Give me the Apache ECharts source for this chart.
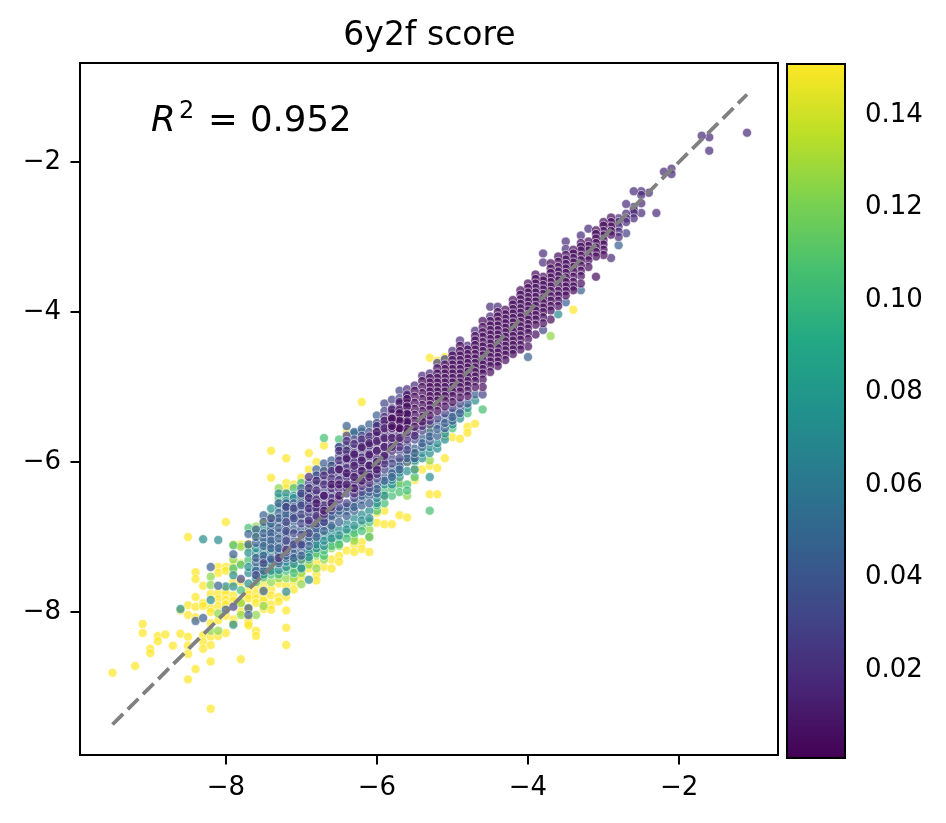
<!DOCTYPE html>
<html><head><meta charset="utf-8">
<style>html,body{margin:0;padding:0;background:#fff}#c{width:946px;height:823px}</style>
<script src="https://cdn.jsdelivr.net/npm/echarts@6/dist/echarts.min.js"></script>
</head><body><div id="c"></div>
<script>
const chartTitle = "6y2f score";
const r2Value = "0.952";
const xTicks = [-8,-6,-4,-2];
const yTicks = [-2,-4,-6,-8];
const colorTicks = [0.02,0.04,0.06,0.08,0.10,0.12,0.14];
const diagonal = [[-9.5,-9.5],[-1.1,-1.1]];
const viridis = ['#440154','#482475','#414487','#355f8d','#2a788e','#21918c','#22a884','#44bf70','#7ad151','#bddf26','#fde725'];

// Each row: x, then the y values read at that x. Layers are drawn in order.
const yellowRows = [
[-9.5,-8.81],[-9.2,-8.72],[-9.1,-8.16,-8.28],[-9.0,-8.49,-8.55],[-8.9,-8.32,-8.39],[-8.8,-8.30],[-8.7,-8.45],
[-8.6,-8.29,-7.98],[-8.5,-7.0,-7.91,-8.04,-8.33,-8.45,-8.56,-8.90],[-8.4,-7.47,-7.56,-7.80,-7.93,-8.07,-8.76],
[-8.3,-7.65,-7.88,-7.92,-8.31,-8.40,-8.49],[-8.2,-7.76,-7.95,-8.0,-8.15,-8.33,-8.44,-8.66,-9.29],
[-8.1,-7.40,-7.48,-7.75,-7.83,-7.92,-8.11,-8.32],[-8.0,-6.8,-7.40,-7.45,-7.70,-7.76,-7.84,-7.9,-8.05,-8.28],
[-7.9,-7.10,-7.37,-7.45,-7.6,-7.78,-7.85,-8.10,-8.15],[-7.8,-7.10,-7.35,-7.6,-7.85,-7.90,-8.0,-8.63],
[-7.7,-7.09,-7.7,-7.77,-7.82,-7.95,-8.10,-8.15,-8.18],[-7.6,-6.99,-7.65,-7.75,-7.82,-7.88,-8.25,-8.32],
[-7.5,-6.8,-7.62,-7.7,-7.8,-7.85,-7.96],[-7.4,-6.21,-5.85,-7.7,-7.78,-7.9,-7.97],[-7.3,-7.62,-7.8,-7.86],
[-7.2,-5.95,-6.28,-6.35,-7.65,-7.8,-7.98,-8.21,-8.44],[-7.1,-6.3,-7.4,-7.6,-7.7],[-7.0,-6.21,-6.45,-7.3,-7.5,-7.55],
[-6.9,-5.88,-6.1,-7.35,-7.42],[-6.8,-6.0,-7.35,-7.5,-7.58],[-6.7,-5.78,-7.4],[-6.6,-7.3,-7.42],[-6.5,-7.25,-7.33],
[-6.4,-5.6,-7.18],[-6.3,-7.1,-7.2],[-6.2,-5.2,-7.07,-7.16],[-6.1,-7.0,-7.2],[-6.0,-6.68,-6.81],
[-5.9,-6.65,-6.83],[-5.8,-6.83],[-5.7,-6.27,-6.71],[-5.6,-6.0,-6.74],[-5.5,-6.24,-6.1],[-5.4,-6.1],
[-5.3,-6.43,-6.05,-4.61],[-5.2,-6.43,-6.08,-4.65],[-5.1,-5.95,-4.6],[-5.0,-5.67],[-4.9,-5.69],
[-4.8,-5.53,-5.61],[-4.7,-5.49],[-3.4,-3.97]
];
const limeRows = [
[-8.2,-7.53,-7.64,-8.25],[-8.1,-8.02,-8.25],[-7.9,-7.3],[-7.8,-7.13,-7.88,-8.04],[-7.7,-7.13],[-7.6,-6.86,-8.04],
[-7.5,-7.55,-7.92],[-7.4,-7.6,-7.4],[-7.3,-7.55,-6.35],[-7.2,-7.55],[-7.1,-7.55,-7.33],[-7.0,-7.63,-7.48],
[-6.9,-7.37],[-6.8,-7.42,-7.25],[-6.7,-7.3],[-6.6,-7.15],[-6.5,-7.12],[-6.3,-7.0,-7.05],[-6.1,-6.9],[-6.0,-5.55],
[-5.9,-6.45],[-5.6,-6.45],[-5.5,-5.9],[-5.3,-5.98,-5.55],[-5.1,-5.65],[-3.7,-4.32]
];
const greenRows = [
[-7.9,-7.11,-7.42],[-7.8,-7.37,-7.71],[-7.7,-6.88,-7.31],[-7.6,-6.95,-7.6],[-7.5,-7.53,-7.42],[-7.4,-7.42,-6.72,-7.5],[-7.3,-7.5,-6.48],
[-7.2,-6.48,-7.45],[-7.1,-6.35,-7.42,-7.48],[-7.0,-7.4,-6.28],[-6.9,-7.3,-6.35,-7.2],[-6.8,-7.15,-6.25,-7.22],[-6.7,-5.68,-7.25,-6.1,-7.18],[-6.6,-7.05,-6.05,-7.12],
[-6.5,-7.03,-5.7,-7.1],[-6.4,-6.95,-5.82,-7.02],[-6.3,-6.9,-6.95],[-6.2,-6.85,-6.92],[-6.1,-6.8,-7.0],[-6.0,-6.65,-6.58],[-5.9,-6.55,-6.38],[-5.8,-6.45,-6.35],
[-5.7,-6.3,-6.4],[-5.6,-6.3,-6.38],[-5.5,-6.2,-6.0],[-5.3,-6.65],[-5.0,-5.55],[-4.8,-5.35],[-4.6,-5.3]
];
const tealRows = [
[-8.6,-7.96],[-8.3,-7.03],[-8.2,-7.84],[-8.1,-7.04],[-8.0,-7.66],[-7.9,-7.51,-7.66,-8.17],[-7.7,-7.21,-7.48,-7.62,-7.4],
[-7.6,-7.22,-7.15,-7.42,-7.55],[-7.5,-6.88,-7.2,-7.08,-7.38,-7.5],[-7.4,-6.62,-7.35,-7.2,-6.85,-7.45],[-7.3,-6.42,-7.44,-7.32,-6.6,-7.25],[-7.2,-6.42,-7.73,-7.4,-6.52,-7.33],[-7.1,-7.3,-6.45,-6.48,-7.36],
[-7.0,-7.42,-7.3,-6.4],[-6.9,-7.57,-7.2,-6.42,-7.27],[-6.8,-7.05,-7.15,-6.18,-7.1],[-6.7,-6.98,-7.12,-7.05],[-6.6,-6.95,-7.02,-6.88],[-6.5,-6.9,-6.98,-5.8],[-6.4,-6.82,-6.9],
[-6.3,-6.75,-6.85,-5.62],[-6.2,-6.7,-6.78,-5.6],[-6.1,-6.65,-6.75],[-6.0,-6.55,-6.48,-5.5],[-5.9,-6.45,-6.3],[-5.8,-6.3,-6.24],[-5.7,-6.2,-6.14],[-5.6,-6.12],[-5.5,-6.1,-5.98],
[-5.4,-5.95,-5.88],[-5.3,-6.2,-5.88,-5.8],[-5.2,-5.82,-5.75],[-5.1,-5.7,-5.62],[-5.0,-5.5],[-4.9,-5.42],[-4.8,-5.28],[-4.7,-5.18],[-3.6,-4.03]
];
const blueRows = [
[-8.4,-8.12],[-8.3,-8.08],[-8.2,-7.40],[-8.1,-7.65],[-8.0,-7.97],[-7.9,-7.23],[-7.7,-6.96,-7.95,-8.04,-7.1],[-7.6,-7.08,-7.34,-7.45,-6.9,-7.0,-7.28],
[-7.5,-6.71,-7.02,-7.12,-7.3,-7.72,-7.45,-6.8,-6.95,-7.25],[-7.4,-6.9,-7.0,-7.1,-7.28,-6.82,-6.95,-7.05,-7.15,-7.3],[-7.3,-6.68,-6.8,-6.95,-7.1,-7.2,-6.55,-6.75,-6.88,-7.02,-7.15,-7.35],[-7.2,-6.55,-6.65,-6.75,-6.85,-7.0,-7.1,-7.28,-6.6,-6.7,-6.95,-7.25],
[-7.1,-6.55,-6.68,-6.8,-6.9,-7.05,-7.15,-7.22,-6.6,-6.72,-7.28],[-7.0,-6.35,-6.5,-6.62,-6.75,-6.9,-7.05,-7.18,-7.25,-6.45,-6.55,-7.12],[-6.9,-6.6,-6.75,-6.9,-7.05,-7.12,-6.5,-7.0],
[-6.8,-6.1,-6.6,-6.85,-6.95,-6.9,-7.0],[-6.7,-6.02,-6.85,-6.92,-6.8],[-6.6,-5.98,-6.75,-6.85,-6.72],[-6.5,-6.7,-6.8,-6.65],[-6.4,-5.52,-6.65,-6.72,-6.6],[-6.3,-5.6,-6.55,-6.65,-6.6],
[-6.2,-5.56,-6.5,-6.58,-6.45],[-6.1,-5.5,-6.45,-6.55,-6.4],[-6.0,-5.38,-6.3,-6.42,-6.36],[-5.9,-6.2,-6.25],[-5.8,-6.1,-6.15,-6.2],[-5.7,-6.0,-6.05,-6.1],[-5.6,-5.9,-6.0,-5.95],
[-5.5,-5.82,-5.95,-5.88],[-5.4,-5.68,-5.8,-5.75],[-5.3,-5.6,-5.72,-5.66],[-5.2,-5.5,-5.65,-5.56],[-5.1,-5.42,-5.55,-5.48],[-5.0,-5.35,-5.45,-5.4],[-4.9,-5.3,-5.35],[-4.8,-5.22],[-4.7,-5.1],
[-4.0,-4.6],[-3.5,-3.87],[-3.3,-3.71],[-2.8,-3.11]
];
const indigoRows = [
[-7.9,-7.93],[-7.8,-7.56],[-7.6,-7.51],[-7.5,-7.35],[-7.4,-6.75],[-7.2,-6.6,-6.8,-6.92,-7.05,-7.2],[-7.1,-6.62,-6.75,-6.95,-7.1],
[-7.0,-6.42,-6.58,-6.7,-6.82,-6.97,-7.1],[-6.9,-6.28,-6.42,-6.55,-6.68,-6.82,-6.95],[-6.8,-6.18,-6.3,-6.42,-6.52,-6.65,-6.75,-6.82],
[-6.7,-6.12,-6.25,-6.38,-6.5,-6.62,-6.75,-6.8],[-6.6,-6.05,-6.15,-6.28,-6.42,-6.55,-6.65],[-6.5,-5.8,-5.92,-6.05,-6.18,-6.3,-6.45,-6.6],
[-6.4,-5.65,-5.78,-5.9,-6.02,-6.15,-6.28,-6.42,-6.55],[-6.3,-5.7,-5.82,-5.95,-6.08,-6.22,-6.35,-6.48],[-6.2,-5.65,-5.75,-5.88,-6.0,-6.12,-6.25,-6.4],
[-6.1,-5.6,-5.72,-5.85,-5.98,-6.1,-6.22,-6.35],[-6.0,-5.48,-5.6,-6.0,-6.12,-6.22],[-5.9,-5.22,-5.32,-5.98,-6.1],[-5.8,-5.17,-5.28,-5.95,-6.02],
[-5.7,-5.05,-5.15,-5.85,-5.95],[-5.6,-5.78,-5.84],[-5.5,-5.7],[-5.4,-5.58],[-5.3,-5.5],[-5.2,-4.68,-5.42],[-5.1,-4.63,-5.35],[-5.0,-5.28],
[-4.9,-5.22],[-4.6,-5.1],[-3.8,-4.24],[-2.7,-2.95]
];
const violetRows = [
[-7.3,-7.28],[-7.2,-7.17],[-6.9,-6.2,-6.35,-6.48,-6.62,-6.78],[-6.8,-6.25,-6.38,-6.5,-6.62,-6.72],[-6.7,-6.18,-6.3,-6.45,-6.58,-6.7],
[-6.6,-6.12,-6.22,-6.35,-6.48,-6.6],[-6.5,-5.85,-5.98,-6.1,-6.24,-6.36,-6.5],[-6.4,-5.72,-5.85,-5.97,-6.08,-6.2,-6.35],[-6.3,-5.76,-5.88,-6.0,-6.14,-6.28,-6.42],
[-6.2,-5.7,-5.82,-5.94,-6.06,-6.18,-6.32],[-6.1,-5.66,-5.78,-5.92,-6.04,-6.16,-6.28],[-6.0,-5.52,-5.65,-5.75,-5.85,-5.95,-6.06,-6.16],
[-5.9,-5.4,-5.5,-5.6,-5.7,-5.8,-5.9,-6.02],[-5.8,-5.35,-5.45,-5.55,-5.65,-5.75,-5.85],[-5.7,-5.22,-5.32,-5.42,-5.52,-5.62,-5.72,-5.8],
[-5.6,-5.03,-5.12,-5.22,-5.32,-5.42,-5.52,-5.62,-5.7],[-5.5,-4.98,-5.6,-5.65],[-5.4,-4.85,-5.52],[-5.3,-4.82,-5.45],[-5.0,-4.52],[-4.9,-4.38],
[-4.8,-4.45],[-4.7,-4.25],[-4.5,-3.93,-4.06],[-4.4,-3.93],[-3.8,-3.22,-3.34],[-3.5,-3.06,-3.16],[-3.3,-2.98],[-3.2,-2.89],
[-2.9,-3.28],[-1.1,-1.61],[-1.6,-1.67,-1.85],[-1.7,-1.65],[-2.1,-2.09,-2.16],[-2.2,-2.13],[-2.3,-2.68],[-2.4,-2.41],
[-2.5,-2.39,-2.44,-2.55,-2.68],[-2.6,-2.39,-2.6,-2.64,-2.68,-2.75],[-2.7,-2.56,-2.69,-2.75,-2.8],[-2.8,-2.75,-2.8,-2.86,-2.93,-3.0]
];
const deepRows = [
[-6.8,-6.55],[-6.7,-6.45,-6.65],[-6.6,-6.3,-6.55],[-6.5,-6.1,-6.3,-6.45],[-6.4,-5.95,-6.15,-6.3],[-6.3,-5.9,-6.05,-6.2,-6.35],[-6.2,-5.8,-5.98,-6.12,-6.25],
[-6.1,-5.75,-5.9,-6.05,-6.2],[-6.0,-5.6,-5.72,-5.85,-6.0,-6.1],[-5.9,-5.45,-5.55,-5.68,-5.8,-5.92],[-5.8,-5.3,-5.42,-5.55,-5.68,-5.8],[-5.7,-5.2,-5.3,-5.42,-5.55,-5.68],[-5.6,-5.1,-5.22,-5.35,-5.48,-5.6]
];
const darkRows = [
[-2.9,-2.74,-2.8,-2.86,-2.92,-2.97],[-3.0,-2.8,-2.85,-2.92,-2.98,-3.04,-3.1,-3.17,-3.24],[-3.1,-2.91,-2.96,-3.02,-3.08,-3.14,-3.2,-3.26,-3.53],
[-3.2,-3.06,-3.12,-3.18,-3.25,-3.31,-3.4],[-3.3,-3.08,-3.13,-3.18,-3.25,-3.31,-3.38,-3.45,-3.52,-3.62],[-3.4,-3.17,-3.22,-3.28,-3.34,-3.4,-3.46,-3.53,-3.6,-3.66,-3.71],
[-3.5,-3.24,-3.3,-3.36,-3.42,-3.48,-3.54,-3.6,-3.66,-3.72,-3.78],[-3.6,-3.26,-3.33,-3.4,-3.46,-3.52,-3.58,-3.65,-3.72,-3.78,-3.85,-3.92],
[-3.7,-3.35,-3.42,-3.48,-3.54,-3.6,-3.66,-3.72,-3.79,-3.85,-3.92,-3.98,-4.1],[-3.8,-3.53,-3.58,-3.64,-3.7,-3.76,-3.82,-3.88,-3.94,-4.0,-4.07,-4.15],
[-3.9,-3.5,-3.56,-3.62,-3.68,-3.74,-3.8,-3.86,-3.92,-3.98,-4.04,-4.1,-4.17,-4.3],[-4.0,-3.62,-3.68,-3.74,-3.8,-3.86,-3.92,-3.98,-4.04,-4.1,-4.16,-4.22,-4.28,-4.36,-4.46],
[-4.1,-3.71,-3.77,-3.83,-3.89,-3.95,-4.01,-4.07,-4.13,-4.19,-4.25,-4.31,-4.37,-4.44,-4.5],[-4.2,-3.84,-3.9,-3.96,-4.02,-4.08,-4.14,-4.2,-4.26,-4.32,-4.38,-4.44,-4.5,-4.56],
[-4.3,-3.97,-4.03,-4.09,-4.15,-4.21,-4.27,-4.33,-4.39,-4.45,-4.51,-4.57,-4.64],[-4.4,-4.0,-4.06,-4.12,-4.18,-4.24,-4.3,-4.36,-4.42,-4.48,-4.54,-4.6,-4.66,-4.72],
[-4.5,-4.12,-4.18,-4.24,-4.3,-4.36,-4.42,-4.48,-4.54,-4.6,-4.66,-4.72,-4.8],[-4.6,-4.12,-4.2,-4.27,-4.33,-4.4,-4.46,-4.52,-4.58,-4.64,-4.7,-4.76,-4.82,-4.9,-5.0],
[-4.7,-4.32,-4.38,-4.44,-4.5,-4.56,-4.62,-4.68,-4.74,-4.8,-4.86,-4.92,-5.0],[-4.8,-4.5,-4.56,-4.62,-4.68,-4.74,-4.8,-4.86,-4.92,-4.98,-5.05,-5.12],
[-4.9,-4.45,-4.52,-4.58,-4.64,-4.7,-4.76,-4.82,-4.88,-4.94,-5.0,-5.06,-5.14],[-5.0,-4.58,-4.64,-4.7,-4.76,-4.82,-4.88,-4.94,-5.0,-5.06,-5.12,-5.2],
[-5.1,-4.7,-4.76,-4.82,-4.88,-4.94,-5.0,-5.06,-5.12,-5.18,-5.26],[-5.2,-4.75,-4.82,-4.88,-4.94,-5.0,-5.06,-5.12,-5.18,-5.24,-5.32],
[-5.3,-4.88,-4.94,-5.0,-5.06,-5.12,-5.18,-5.24,-5.3,-5.38],[-5.4,-4.92,-5.0,-5.08,-5.16,-5.24,-5.32,-5.4,-5.46],[-5.5,-5.05,-5.13,-5.21,-5.29,-5.37,-5.45,-5.53],
[-5.6,-5.16,-5.26,-5.36,-5.46,-5.56],[-5.7,-5.35,-5.45,-5.55],[-5.8,-5.42,-5.52]
];
const layers = [
  {score:0.151, rows:yellowRows},{score:0.125, rows:limeRows},{score:0.105, rows:greenRows},{score:0.072, rows:tealRows},
  {score:0.045, rows:blueRows},{score:0.03, rows:indigoRows},{score:0.018, rows:violetRows},{score:0.01, rows:deepRows},{score:0.004, rows:darkRows}
];
const points = [];
layers.forEach(l => l.rows.forEach(r => r.slice(1).forEach(y => points.push([r[0], y, l.score]))));

const minus = v => String(v).replace('-', '\u2212');
const tickFont = {fontFamily:'DejaVu Sans', fontSize:26, color:'#000'};
const tickLine = {color:'#000', width:2};
const chart = echarts.init(document.getElementById('c'), null, {renderer:'canvas'});
const textFont = s => s + 'px "DejaVu Sans"';
chart.setOption({
  animation:false,
  backgroundColor:'#fff',
  title:{text:chartTitle, left:424.5, top:15, textAlign:'center',
    textStyle:{fontFamily:'DejaVu Sans', fontSize:33, fontWeight:'normal', color:'#000'}},
  grid:[
    {left:80, top:63, width:698, height:692, show:true, borderColor:'#000', borderWidth:2, backgroundColor:'transparent', z:1},
    {left:787, top:64, width:58, height:694, show:true, borderColor:'#000', borderWidth:2, backgroundColor:'transparent', z:10}
  ],
  xAxis:[
    {gridIndex:0, type:'value', min:-9.93, max:-0.69, splitLine:{show:false},
     axisLine:{show:false},
     axisTick:{show:true, customValues:xTicks, length:9.5, lineStyle:tickLine},
     axisLabel:{show:true, customValues:xTicks, formatter:minus, margin:20, ...tickFont}},
    {gridIndex:1, type:'value', min:0, max:1, show:false}
  ],
  yAxis:[
    {gridIndex:0, type:'value', min:-9.907, max:-0.68, splitLine:{show:false},
     axisLine:{show:false},
     axisTick:{show:true, customValues:yTicks, length:9.5, lineStyle:tickLine},
     axisLabel:{show:true, customValues:yTicks, formatter:minus, margin:19, padding:[4,0,0,0], ...tickFont}},
    {gridIndex:1, type:'value', position:'right', min:0.001, max:0.151, splitLine:{show:false},
     axisLine:{show:false},
     axisTick:{show:true, customValues:colorTicks, length:9.5, lineStyle:tickLine},
     axisLabel:{show:true, customValues:colorTicks, formatter:v=>Number(v).toFixed(2), margin:20, padding:[4,0,0,0], ...tickFont}}
  ],
  visualMap:{type:'continuous', min:0.001, max:0.151, dimension:2, seriesIndex:0,
    left:787, top:64, itemWidth:58, itemHeight:694, calculable:false, text:null, showLabel:false, hoverLink:false,
    inRange:{color:viridis}, padding:0, z:4},
  series:[
    {type:'scatter', xAxisIndex:0, yAxisIndex:0, data:points, symbolSize:9, z:2, silent:true,
     itemStyle:{opacity:0.7, borderColor:'#fff', borderWidth:0.8}},
    {type:'line', xAxisIndex:0, yAxisIndex:0, data:diagonal, symbol:'none', z:3, silent:true,
     lineStyle:{color:'#808080', width:3.8, type:[15,6.5]}}
  ],
  graphic:[
    {type:'text', x:151, y:122, z:20, style:{text:'R', font:'italic '+textFont(35.5), fill:'#000', verticalAlign:'middle'}},
    {type:'text', x:179, y:112, z:20, style:{text:'2', font:textFont(24), fill:'#000', verticalAlign:'middle'}},
    {type:'text', x:208, y:122, z:20, style:{text:'=', font:textFont(35.5), fill:'#000', verticalAlign:'middle'}},
    {type:'text', x:250, y:122, z:20, style:{text:r2Value, font:textFont(35.5), fill:'#000', verticalAlign:'middle'}}
  ]
});
</script></body></html>
